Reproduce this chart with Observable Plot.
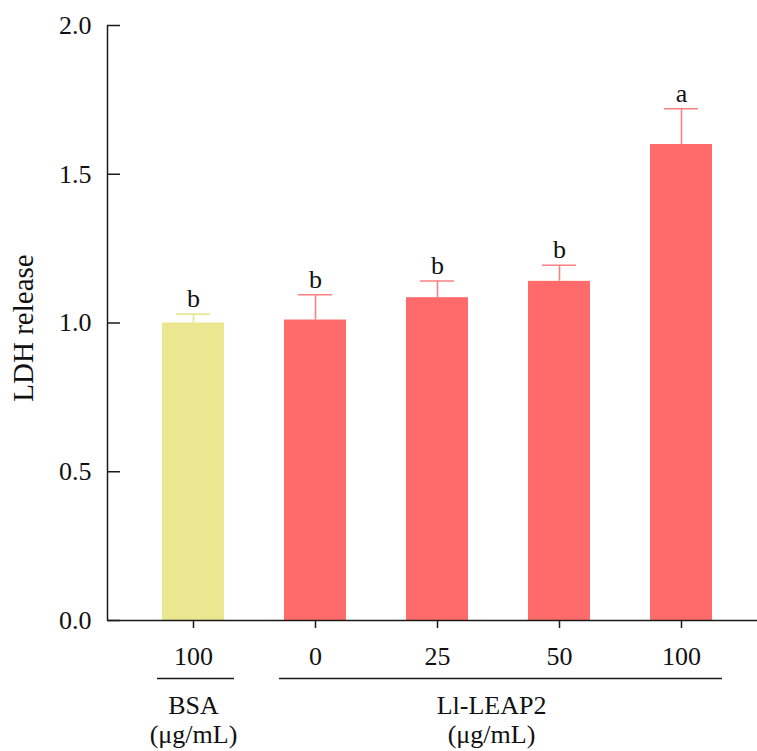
<!DOCTYPE html>
<html><head><meta charset="utf-8">
<script src="https://cdn.jsdelivr.net/npm/d3@7"></script>
<script src="https://cdn.jsdelivr.net/npm/@observablehq/plot@0.6"></script>
<style>body{margin:0;background:#fff} #chart svg{font-family:"Liberation Serif","Times New Roman",serif;background:#fff}</style>
</head><body><div id="chart"></div>
<script>
const keys = ["BSA-100","LEAP-0","LEAP-25","LEAP-50","LEAP-100"];
const tickLabels = ["100","0","25","50","100"];
const groups = ["BSA","Ll-LEAP2","Ll-LEAP2","Ll-LEAP2","Ll-LEAP2"];
const values = [1.00, 1.01, 1.085, 1.14, 1.60];
const errors = [0.03, 0.085, 0.056, 0.054, 0.12];
const letters = ["b","b","b","b","a"];
const yTicks = [0, 0.5, 1.0, 1.5, 2.0];
const groupNames = ["BSA","Ll-LEAP2"];
const groupUnit = "(μg/mL)";
const groupStart = ["BSA-100","LEAP-0"];
const groupEnd = ["BSA-100","LEAP-100"];
const yLabel = "LDH release";

const barColors = ["#EBE791","#FF6B6B"];
const errColors = ["#EBE791","#FF8080"];

const data = keys.map((k, i) => ({key: k, group: groups[i], value: values[i], top: values[i] + errors[i], letter: letters[i]}));
const groupRows = groupNames.map((g, i) => ({name: g, start: groupStart[i], end: groupEnd[i]}));
const W = 757, H = 751, ML = 107, MR = 0, MT = 25, MB = 131;
const axisColor = "#1a1a1a";

const chart = Plot.plot({
  width: W, height: H,
  marginLeft: ML, marginRight: MR, marginTop: MT, marginBottom: MB,
  style: {fontFamily: '"Liberation Serif","Times New Roman",serif', background: "#fff"},
  x: {domain: keys, range: [99.75, 774.25], paddingInner: 0.494, paddingOuter: 0.5},
  y: {domain: [0, 2]},
  color: {domain: groupNames, range: barColors},
  marks: [
    Plot.barY(data, {x: "key", y: "value", fill: "group"}),
    ...groupNames.map((g, gi) => Plot.ruleX(data.filter(d => d.group === g), {x: "key", y1: "value", y2: "top", stroke: errColors[gi], strokeWidth: 1.6})),
    ...groupNames.map((g, gi) => Plot.tickY(data.filter(d => d.group === g), {x: "key", y: "top", stroke: errColors[gi], strokeWidth: 1.6, insetLeft: 14, insetRight: 14})),
    Plot.text(data, {x: "key", y: "top", text: "letter", dy: -7, lineAnchor: "bottom", fontSize: 26, fill: "#111"}),
    Plot.ruleY([0], {stroke: axisColor, strokeWidth: 1.5}),
    Plot.ruleX([0], {x: null, dx: ML - (ML + W - MR) / 2, stroke: axisColor, strokeWidth: 1.5}),
    Plot.tickY(yTicks, {y: d => d, insetRight: (W - ML - MR) - 13, stroke: axisColor, strokeWidth: 1.5}),
    Plot.axisY({ticks: yTicks, tickSize: 0, tickPadding: 16, tickFormat: d3.format(".1f"), fontSize: 26, label: null, fill: "#111"}),
    Plot.axisX({tickSize: 8, tickPadding: 18, tickFormat: d => tickLabels[keys.indexOf(d)], fontSize: 26, label: null, stroke: axisColor, strokeWidth: 1.5, fill: "#111"}),
    Plot.ruleY(groupRows, {y: () => 0, x1: "start", x2: "end", dy: 58, insetLeft: -5, insetRight: -10, stroke: axisColor, strokeWidth: 1.3}),
    Plot.text([groupNames[0] + "\n" + groupUnit], {x: () => groupStart[0], frameAnchor: "bottom", textAnchor: "middle", dy: 73, lineAnchor: "top", lineHeight: 1.12, fontSize: 26, fill: "#111"}),
    Plot.text([groupNames[1] + "\n" + groupUnit], {x: () => "LEAP-25", frameAnchor: "bottom", textAnchor: "middle", dx: 54, dy: 73, lineAnchor: "top", lineHeight: 1.12, fontSize: 26, fill: "#111"}),
    Plot.text([yLabel], {frameAnchor: "left", textAnchor: "middle", dx: -84, dy: 5, rotate: -90, fontSize: 29, fill: "#111"})
  ]
});
document.getElementById("chart").appendChild(chart);
</script>
</body></html>
